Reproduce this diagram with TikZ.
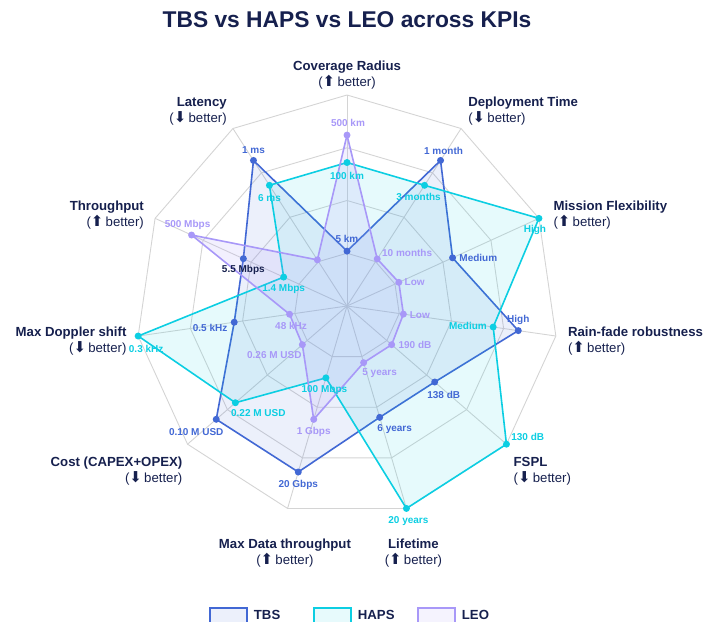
\documentclass[tikz,border=0pt]{standalone}
\usepackage{fontspec}
\setmainfont{Liberation Sans}
\newfontfamily\arrowfont{DejaVu Sans}
\usepackage{tikz}
\usetikzlibrary{positioning}
\definecolor{kpinavy}{RGB}{22,32,78}
\definecolor{kpigrid}{RGB}{212,212,212}
\definecolor{kpitbs}{RGB}{66,104,212}
\definecolor{kpihaps}{RGB}{12,206,226}
\definecolor{kpileo}{RGB}{168,152,248}
\tikzstyle{gridline} = [draw=kpigrid, line width=0.9pt]
\tikzstyle{tbsarea} = [draw=kpitbs, line width=1.6pt, line join=round, fill=kpitbs, fill opacity=0.1]
\tikzstyle{hapsarea} = [draw=kpihaps, line width=1.6pt, line join=round, fill=kpihaps, fill opacity=0.1]
\tikzstyle{leoarea} = [draw=kpileo, line width=1.6pt, line join=round, fill=kpileo, fill opacity=0.15]
\tikzstyle{dot} = [circle, inner sep=0pt, minimum size=7pt]
\tikzstyle{val} = [inner sep=0pt, font=\fontsize{10}{12}\selectfont\bfseries]
\tikzstyle{axislabel} = [inner sep=0pt, text=kpinavy, font=\fontsize{13.2}{16}\selectfont]
\tikzstyle{legbox} = [rectangle, line width=2pt, minimum width=37pt, minimum height=26pt, inner sep=0pt, anchor=north west]
\tikzstyle{legtext} = [inner sep=0pt, text=kpinavy, font=\fontsize{13.2}{16}\selectfont\bfseries]
\newcommand{\betterup}{({\arrowfont\fontsize{15}{16}\selectfont ⬆}\,better)}
\newcommand{\betterdown}{({\arrowfont\fontsize{15}{16}\selectfont ⬇}\,better)}

\begin{document}
\begin{tikzpicture}[x=1pt, y=-1pt]
\useasboundingbox (0,0) rectangle (706,621);
\clip (0,0) rectangle (706,621);

% Title
\node (title) [text=kpinavy, font=\fontsize{22.8}{26}\selectfont\bfseries] at (347,20) {TBS vs HAPS vs LEO across KPIs};

\begin{scope}[shift={(347,306)}, y=1pt]
% Grid
\foreach \i in {0,...,10} {
  \coordinate (o\i) at ({90-\i*360/11}:211);
  \draw[gridline] (0,0) -- (o\i);
}
\foreach \f in {0.25,0.5,0.75,1} {
  \draw[gridline] (90:{211*\f}) \foreach \i in {1,...,10} { -- ({90-\i*360/11}:{211*\f}) } -- cycle;
}

% Series
\def\tbsdata{0.26,0.82,0.55,0.82,0.55,0.55,0.82,0.82,0.54,0.54,0.82}
\def\hapsdata{0.68,0.68,1.0,0.70,1.0,1.0,0.355,0.70,1.0,0.33,0.68}
\def\leodata{0.81,0.265,0.27,0.27,0.28,0.28,0.56,0.28,0.275,0.81,0.26}
\foreach \v [count=\i from 0] in \tbsdata {\coordinate (t\i) at ({90-\i*360/11}:{211*\v});}
\foreach \v [count=\i from 0] in \hapsdata {\coordinate (h\i) at ({90-\i*360/11}:{211*\v});}
\foreach \v [count=\i from 0] in \leodata {\coordinate (l\i) at ({90-\i*360/11}:{211*\v});}

\draw[tbsarea] (t0) \foreach \i in {1,...,10} { -- (t\i) } -- cycle;
\draw[hapsarea] (h0) \foreach \i in {1,...,10} { -- (h\i) } -- cycle;
\draw[leoarea] (l0) \foreach \i in {1,...,10} { -- (l\i) } -- cycle;

\foreach \i in {0,...,10} {
  \node[dot, fill=kpitbs] (mt\i) at (t\i) {};
  \node[dot, fill=kpihaps] (mh\i) at (h\i) {};
  \node[dot, fill=kpileo] (ml\i) at (l\i) {};
}
\end{scope}

% TBS values
\node[val, text=kpitbs, above=4.5pt of mt0] (vt0) {5 km};
\node[val, text=kpitbs, above=1.5pt of mt1, xshift=3pt] (vt1) {1 month};
\node[val, text=kpitbs, right=3pt of mt2] (vt2) {Medium};
\node[val, text=kpitbs, above=2pt of mt3] (vt3) {High};
\node[val, text=kpitbs, below=5pt of mt4, xshift=9pt] (vt4) {138 dB};
\node[val, text=kpitbs, below=3pt of mt5, xshift=15pt] (vt5) {6 years};
\node[val, text=kpitbs, below=4pt of mt6] (vt6) {20 Gbps};
\node[val, text=kpitbs, below=5pt of mt7, xshift=-20pt] (vt7) {0.10 M USD};
\node[val, text=kpitbs, left=3pt of mt8, yshift=-5.5pt] (vt8) {0.5 kHz};
\node[val, text=kpinavy, below=3pt of mt9] (vt9) {5.5 Mbps};
\node[val, text=kpitbs, above=3pt of mt10] (vt10) {1 ms};

% HAPS values
\node[val, text=kpihaps, below=6pt of mh0] (vh0) {100 km};
\node[val, text=kpihaps, below=4pt of mh1, xshift=-6pt] (vh1) {3 months};
\node[val, text=kpihaps, below=3pt of mh2, xshift=-4pt] (vh2) {High};
\node[val, text=kpihaps, left=2.5pt of mh3, yshift=1.5pt] (vh3) {Medium};
\node[val, text=kpihaps, right=1pt of mh4, yshift=7pt] (vh4) {130 dB};
\node[val, text=kpihaps, below=4pt of mh5, xshift=2pt] (vh5) {20 years};
\node[val, text=kpihaps, below=3pt of mh6, xshift=-1.5pt] (vh6) {100 Mbps};
\node[val, text=kpihaps, below=3pt of mh7, xshift=23pt] (vh7) {0.22 M USD};
\node[val, text=kpihaps, below=5pt of mh8, xshift=8pt] (vh8) {0.3 kHz};
\node[val, text=kpihaps, below=3pt of mh9] (vh9) {1.4 Mbps};
\node[val, text=kpihaps, below=5pt of mh10] (vh10) {6 ms};

% LEO values
\node[val, text=kpileo, above=4.5pt of ml0, xshift=1pt] (vl0) {500 km};
\node[val, text=kpileo, right=1pt of ml1, yshift=6pt] (vl1) {10 months};
\node[val, text=kpileo, right=2pt of ml2] (vl2) {Low};
\node[val, text=kpileo, right=2.5pt of ml3, yshift=-0.5pt] (vl3) {Low};
\node[val, text=kpileo, right=3pt of ml4, yshift=-0.5pt] (vl4) {190 dB};
\node[val, text=kpileo, below=2pt of ml5, xshift=16pt] (vl5) {5 years};
\node[val, text=kpileo, below=3.5pt of ml6] (vl6) {1 Gbps};
\node[val, text=kpileo, below=3pt of ml7, xshift=-28pt] (vl7) {0.26 M USD};
\node[val, text=kpileo, below=4pt of ml8, xshift=1.5pt] (vl8) {48 kHz};
\node[val, text=kpileo, above=2pt of ml9, xshift=-4pt] (vl9) {500 Mbps};

% Axis labels
\node[axislabel, align=center, above=5.5pt of o0] (ax0) {\textbf{Coverage Radius}\\\betterup};
\node[axislabel, align=left, above right=3.3pt and 7pt of o1] (ax1) {\textbf{Deployment Time}\\\betterdown};
\node[axislabel, align=left, right=14.4pt of o2, yshift=3.4pt] (ax2) {\textbf{Mission Flexibility}\\\betterup};
\node[axislabel, align=left, right=12pt of o3, yshift=-5pt] (ax3) {\textbf{Rain-fade robustness}\\\betterup};
\node[axislabel, align=left, below right=12.5pt and 7pt of o4] (ax4) {\textbf{FSPL}\\\betterdown};
\node[axislabel, align=center, below=30pt of o5, xshift=7pt] (ax5) {\textbf{Lifetime}\\\betterup};
\node[axislabel, align=center, below=30pt of o6, xshift=-2.6pt] (ax6) {\textbf{Max Data throughput}\\\betterup};
\node[axislabel, align=right, below left=12.5pt and 5pt of o7] (ax7) {\textbf{Cost (CAPEX+OPEX)}\\\betterdown};
\node[axislabel, align=right, left=11.5pt of o8, yshift=-5pt] (ax8) {\textbf{Max Doppler shift}\\\betterdown};
\node[axislabel, align=right, left=11pt of o9, yshift=3.4pt] (ax9) {\textbf{Throughput}\\\betterup};
\node[axislabel, align=right, above left=3.3pt and 6pt of o10] (ax10) {\textbf{Latency}\\\betterdown};

% Legend
\node[legbox, draw=kpitbs, fill=kpitbs!10] (legtbs) at (208.7,606.7) {};
\node[legtext, right=6pt of legtbs, yshift=5.7pt] (legtbstext) {TBS};
\node[legbox, draw=kpihaps, fill=kpihaps!10] (leghaps) at (312.7,606.7) {};
\node[legtext, right=6pt of leghaps, yshift=5.7pt] (leghapstext) {HAPS};
\node[legbox, draw=kpileo, fill=kpileo!12] (legleo) at (416.7,606.7) {};
\node[legtext, right=6pt of legleo, yshift=5.7pt] (legleotext) {LEO};
\end{tikzpicture}
\end{document}
